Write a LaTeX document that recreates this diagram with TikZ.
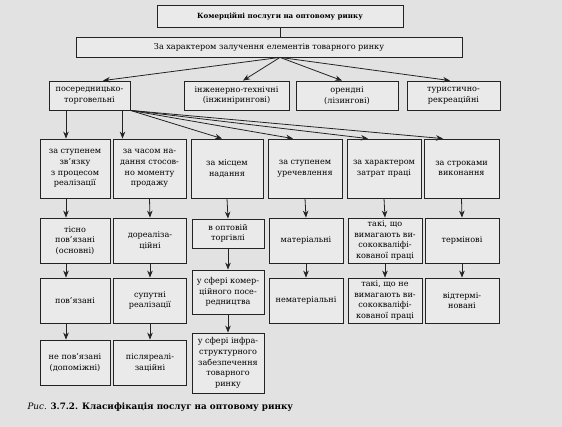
\documentclass[tikz,border=0pt]{standalone}
\usepackage{fontspec}
\setmainfont{DejaVu Serif}
\usepackage{tikz}
\usetikzlibrary{arrows.meta}
\definecolor{paper}{RGB}{226,226,226}
\definecolor{boxfill}{RGB}{234,234,234}
\definecolor{ink}{RGB}{35,35,35}
\begin{document}
\begin{tikzpicture}[x=1pt,y=-1pt,font=\fontsize{8.1}{10.6}\selectfont,box/.style={draw=ink,fill=boxfill,line width=0.8pt,align=center,inner sep=1pt},arr/.style={-{Stealth[length=7pt,width=5.5pt]},draw=ink,line width=0.8pt}]
\fill[paper] (0,0) rectangle (562,427);
\useasboundingbox (0,0) rectangle (562,427);
\node[box,minimum width=246pt,minimum height=22pt,font=\fontsize{7.1}{10}\bfseries] (top) at (280,16) {Комерційні послуги на оптовому ринку};
\node[box,minimum width=386pt,minimum height=20pt] (crit) at (269,47) {За характером залучення елементів товарного ринку};
\node[box,minimum width=81pt,minimum height=29pt] (trade) at (89.5,95.5) {посередницько-\\торговельні};
\node[box,minimum width=105pt,minimum height=29pt] (eng) at (236.5,95.5) {інженерно-технічні\\(інжинірингові)};
\node[box,minimum width=102pt,minimum height=29pt] (rent) at (347,95.5) {орендні\\(лізингові)};
\node[box,minimum width=93pt,minimum height=29pt] (tour) at (453.5,95.5) {туристично-\\рекреаційні};
% criteria of trade services
\node[box,minimum width=70pt,minimum height=59pt] (link) at (75,168.5) {за ступенем\\зв'язку\\з процесом\\реалізації};
\node[box,minimum width=73pt,minimum height=59pt] (time) at (149.5,168.5) {за часом на-\\дання стосов-\\но моменту\\продажу};
\node[box,minimum width=72pt,minimum height=59pt] (place) at (227,168.5) {за місцем\\надання};
\node[box,minimum width=74pt,minimum height=59pt] (matr) at (305,168.5) {за ступенем\\уречевлення};
\node[box,minimum width=74pt,minimum height=59pt] (labour) at (384,168.5) {за характером\\затрат праці};
\node[box,minimum width=75pt,minimum height=59pt] (term) at (461.5,168.5) {за строками\\виконання};
\node[box,minimum width=70pt,minimum height=45pt] (link1) at (75,240.5) {тісно\\пов'язані\\(основні)};
\node[box,minimum width=70pt,minimum height=45pt] (link2) at (75,300.5) {пов'язані};
\node[box,minimum width=70pt,minimum height=45pt] (link3) at (75,362.5) {не пов'язані\\(допоміжні)};
\node[box,minimum width=73pt,minimum height=45pt] (time1) at (150,240.5) {дореаліза-\\ційні};
\node[box,minimum width=73pt,minimum height=45pt] (time2) at (150,300.5) {супутні\\реалізації};
\node[box,minimum width=73pt,minimum height=45pt] (time3) at (150,362.5) {післяреалі-\\заційні};
\node[box,minimum width=72pt,minimum height=29pt] (place1) at (228,233.5) {в оптовій\\торгівлі};
\node[box,minimum width=72pt,minimum height=44pt] (place2) at (228,292) {у сфері комер-\\ційного посе-\\редництва};
\node[box,minimum width=72pt,minimum height=60pt] (place3) at (228,363) {у сфері інфра-\\структурного\\забезпечення\\товарного\\ринку};
\node[box,minimum width=74pt,minimum height=45pt] (matr1) at (306,240.5) {матеріальні};
\node[box,minimum width=74pt,minimum height=45pt] (matr2) at (306,300.5) {нематеріальні};
\node[box,minimum width=74pt,minimum height=45pt] (labour1) at (385,240.5) {такі, що\\вимагають ви-\\сококваліфі-\\кованої праці};
\node[box,minimum width=74pt,minimum height=45pt] (labour2) at (385,300.5) {такі, що не\\вимагають ви-\\сококваліфі-\\кованої праці};
\node[box,minimum width=74pt,minimum height=45pt] (term1) at (462,240.5) {термінові};
\node[box,minimum width=74pt,minimum height=45pt] (term2) at (462,300.5) {відтермі-\\новані};
\node[anchor=west,font=\fontsize{8.8}{10}\selectfont] (caption) at (24,407) {\textit{Рис.} \textbf{3.7.2. Класифікація послуг на оптовому ринку}};
% connectors
\coordinate (split) at (crit.south -| top.south);
\draw[draw=ink,line width=0.8pt] (top.south) -- (top.south |- crit.north);
\draw[arr] (split) -- ([xshift=13.5pt]trade.north);
\draw[arr] (split) -- ([xshift=6.5pt]eng.north);
\draw[arr] (split) -- ([xshift=-5pt]rent.north);
\draw[arr] (split) -- ([xshift=-3.5pt]tour.north);
\draw[arr] ([xshift=-9pt]link.north |- trade.south) -- ([xshift=-9pt]link.north);
\draw[arr] ([xshift=-27pt]time.north |- trade.south) -- ([xshift=-27pt]time.north);
\draw[arr] (trade.south east) -- ([xshift=-5pt]place.north);
\draw[arr] (trade.south east) -- ([xshift=-12pt]matr.north);
\draw[arr] (trade.south east) -- ([xshift=-16pt]labour.north);
\draw[arr] (trade.south east) -- ([xshift=-18.5pt]term.north);
\foreach \a/\b in {link/link1,link1/link2,link2/link3}
  \draw[arr] ([xshift=-9pt]\a.south) -- ([xshift=-9pt]\b.north);
\foreach \a/\b in {time/time1,time1/time2,time2/time3,place/place1,place1/place2,place2/place3,matr/matr1,matr1/matr2,labour/labour1,labour1/labour2,term/term1,term1/term2}
  \draw[arr] (\a.south) -- (\b.north);
\end{tikzpicture}
\end{document}
